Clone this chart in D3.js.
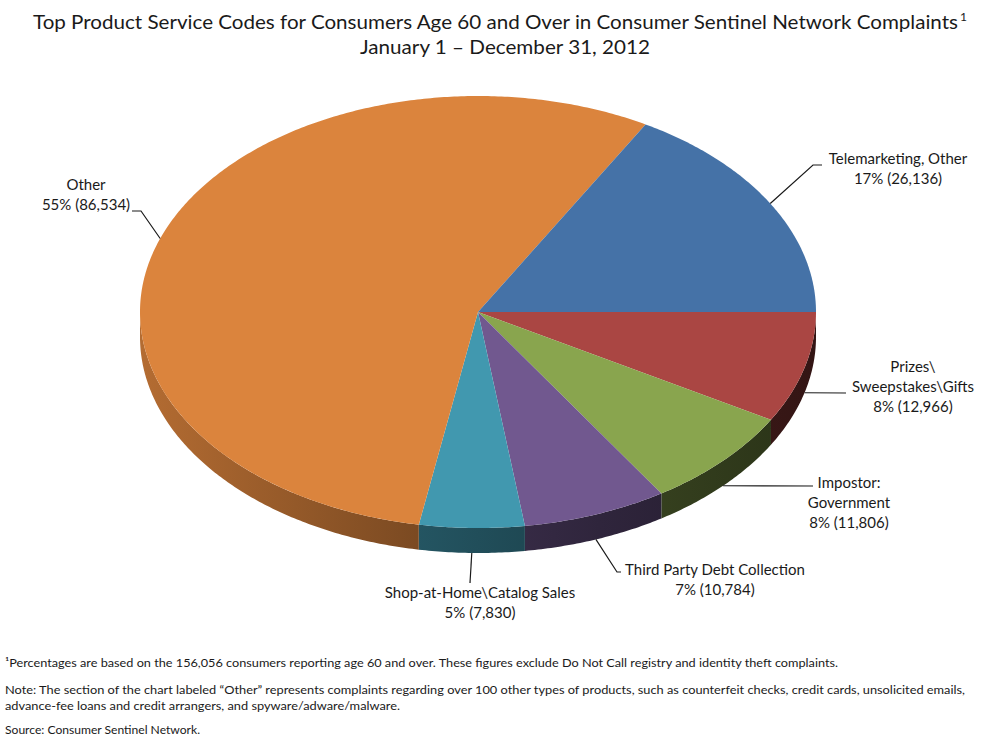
<!DOCTYPE html>
<html>
<head>
<meta charset="utf-8">
<script src="https://cdn.jsdelivr.net/npm/d3@7.9.0/dist/d3.min.js"></script>
<style>
  body { margin: 0; background: #fff; }
  text { font-family: Lato, "Open Sans", sans-serif; fill: #1a1a1a; }
</style>
</head>
<body>
<script>
// ** Data **
const categories = [
    ["Prizes\\", "Sweepstakes\\Gifts"],
    ["Impostor:", "Government"],
    ["Third Party Debt Collection"],
    ["Shop-at-Home\\Catalog Sales"],
    ["Other"],
    ["Telemarketing, Other"]
];
const values = [12966, 11806, 10784, 7830, 86534, 26136];
const colors = ["#aa4643", "#89a54e", "#71588f", "#4198af", "#db843d", "#4572a7"];

// ** Label placement (text centre, first baseline, leader points after the slice anchor) **
const labelLayout = [
    { x: 913, y: 372, leader: [[846, 393]] },
    { x: 849, y: 488, leader: [[813, 486]] },
    { x: 715, y: 575, leader: [[617, 572], [621, 572]] },
    { x: 480, y: 598, leader: [[470, 583]] },
    { x: 86,  y: 190, leader: [[141, 211], [132, 211]] },
    { x: 898, y: 164, leader: [[813, 165], [822, 165]] }
];

const width = 981, height = 736;
const cx = 478, cy = 312, rx = 338, ry = 216, depth = 25;

const svg = d3.select("body").append("svg")
    .attr("width", width)
    .attr("height", height);

svg.append("rect").attr("width", width).attr("height", height).attr("fill", "#fff");

// ** Title **
svg.append("text")
    .attr("x", 33).attr("y", 29)
    .attr("textLength", 925).attr("lengthAdjust", "spacingAndGlyphs")
    .style("font-size", "20px")
    .text("Top Product Service Codes for Consumers Age 60 and Over in Consumer Sentinel Network Complaints");
svg.append("text")
    .attr("x", 960).attr("y", 21)
    .style("font-size", "12px")
    .text("1");
svg.append("text")
    .attr("x", 505).attr("y", 54)
    .attr("text-anchor", "middle")
    .attr("textLength", 290).attr("lengthAdjust", "spacingAndGlyphs")
    .style("font-size", "20px")
    .text("January 1 \u2013 December 31, 2012");

// ** Pie geometry (ellipse projection) **
const total = d3.sum(values);
const arcs = d3.pie().sort(null)
    .startAngle(Math.PI / 2)
    .endAngle(Math.PI / 2 + 2 * Math.PI)(values);

const px = t => cx + rx * Math.cos(t);
const py = t => cy + ry * Math.sin(t);
const toT = a => a - Math.PI / 2;

function arcPoints(t0, t1, dy) {
    const n = Math.max(2, Math.ceil(Math.abs(t1 - t0) / 0.01));
    return d3.range(n + 1).map(i => {
        const t = t0 + (t1 - t0) * i / n;
        return [px(t), py(t) + dy];
    });
}
const line = d3.line();

// ** Side shading gradients **
const defs = svg.append("defs");
const shade = [[0, 0.82], [0.41, 0.56], [0.68, 0.42], [1, 0.3]];
arcs.forEach((d, i) => {
    const g = defs.append("linearGradient")
        .attr("id", "side" + i)
        .attr("gradientUnits", "userSpaceOnUse")
        .attr("x1", cx - rx).attr("x2", cx + rx)
        .attr("y1", 0).attr("y2", 0);
    const c = d3.rgb(colors[i]);
    shade.forEach(([o, k]) => {
        g.append("stop")
            .attr("offset", o)
            .attr("stop-color", d3.rgb(c.r * k, c.g * k, c.b * k).formatHex());
    });
});

// ** Sides (front half only) **
svg.append("g").selectAll("path")
    .data(arcs.filter(d => toT(d.startAngle) < Math.PI))
    .join("path")
    .attr("fill", d => `url(#side${d.index})`)
    .attr("d", d => {
        const a0 = Math.max(0, toT(d.startAngle));
        const a1 = Math.min(Math.PI, toT(d.endAngle));
        const top = arcPoints(a0, a1, 0);
        const bottom = arcPoints(a1, a0, depth);
        return line(top.concat(bottom)) + "Z";
    });

// ** Top face **
svg.append("g").selectAll("path")
    .data(arcs)
    .join("path")
    .attr("fill", d => colors[d.index])
    .attr("d", d => line([[cx, cy]].concat(arcPoints(toT(d.startAngle), toT(d.endAngle), 0))) + "Z");

// ** Labels and leader lines **
const fmt = d3.format(",");
arcs.forEach((d, i) => {
    const tm = toT((d.startAngle + d.endAngle) / 2);
    const anchor = [px(tm), py(tm) + (Math.sin(tm) > 0 ? depth : 0)];
    svg.append("path")
        .attr("d", line([anchor].concat(labelLayout[i].leader)))
        .attr("fill", "none")
        .attr("stroke", "#1a1a1a")
        .attr("stroke-width", 1.2);

    const lines = categories[i].concat([`${Math.round(d.value / total * 100)}% (${fmt(d.value)})`]);
    svg.append("text")
        .attr("text-anchor", "middle")
        .style("font-size", "15px")
        .selectAll("tspan")
        .data(lines)
        .join("tspan")
        .attr("x", labelLayout[i].x)
        .attr("y", (s, j) => labelLayout[i].y + j * 20)
        .text(s => s);
});

// ** Footnotes **
const notes = [
    { y: 667, len: 833, t: "\u00b9Percentages are based on the 156,056 consumers reporting age 60 and over. These figures exclude Do Not Call registry and identity theft complaints." },
    { y: 694, len: 960, t: "Note:  The section of the chart labeled \u201cOther\u201d represents complaints regarding over 100 other types of products, such as counterfeit checks, credit cards, unsolicited emails," },
    { y: 710, len: 395, t: "advance-fee loans and credit arrangers, and spyware/adware/malware." },
    { y: 734, len: 195, t: "Source: Consumer Sentinel Network." }
];
svg.append("g").selectAll("text")
    .data(notes)
    .join("text")
    .attr("x", 5)
    .attr("y", d => d.y)
    .attr("textLength", d => d.len)
    .attr("lengthAdjust", "spacingAndGlyphs")
    .style("font-size", "12px")
    .text(d => d.t);
</script>
</body>
</html>
